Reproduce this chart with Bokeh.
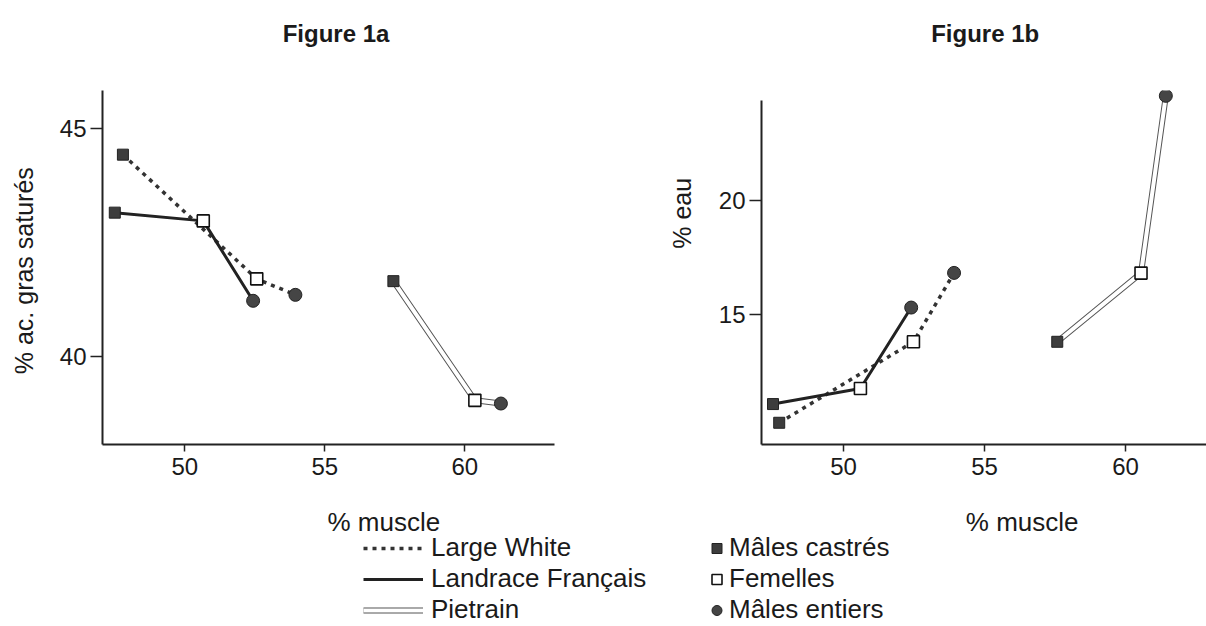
import math
from bokeh.plotting import figure
from bokeh.models import Label, Legend, LegendItem, FixedTicker, Range1d
from bokeh.layouts import column, row
from bokeh.embed import file_html
from bokeh.resources import INLINE

# ---------------- data ----------------
breeds = ["Large White", "Landrace Français", "Pietrain"]
sexes = ["Mâles castrés", "Femelles", "Mâles entiers"]

# Figure 1a : % muscle vs % ac. gras saturés  (order: castrés, femelles, entiers)
muscle_1a_lw = [47.79, 52.57, 53.95]
sat_lw = [44.42, 41.70, 41.35]
muscle_1a_lr = [47.50, 50.66, 52.44]
sat_lr = [43.15, 42.97, 41.22]
muscle_1a_pi = [57.45, 60.36, 61.29]
sat_pi = [41.65, 39.04, 38.97]

# Figure 1b : % muscle vs % eau
muscle_1b_lw = [47.72, 52.48, 53.92]
eau_lw = [10.24, 13.79, 16.81]
muscle_1b_lr = [47.50, 50.60, 52.40]
eau_lr = [11.06, 11.74, 15.29]
muscle_1b_pi = [57.58, 60.55, 61.43]
eau_pi = [13.79, 16.80, 24.57]

x_ticks = [50, 55, 60]
y_ticks_1a = [40, 45]
y_ticks_1b = [15, 20]

titles = ["Figure 1a", "Figure 1b"]
x_label = "% muscle"
y_labels = ["% ac. gras saturés", "% eau"]

# ---------------- styles ----------------
SANS = "Liberation Sans"
INK = "#1a1a1a"
H_MID = 438

line_styles = {
    "Large White": [dict(line_dash="4 5", line_width=3.5, line_color="#333333")],
    "Landrace Français": [dict(line_width=3, line_color="#222222")],
    "Pietrain": [dict(line_width=6, line_color="#555555"),
                 dict(line_width=4, line_color="white")],
}
marker_styles = {
    "Mâles castrés": dict(marker="square", size=11, fill_color="#3d3d3d",
                          line_color="#222222", line_width=1),
    "Femelles": dict(marker="square", size=12, fill_color="white",
                     line_color="#111111", line_width=1.6),
    "Mâles entiers": dict(marker="circle", size=13, fill_color="#454545",
                          line_color="#222222", line_width=1),
}


def strip(width, height):
    """Axis-less figure whose frame fills the canvas; ranges are in pixels."""
    q = figure(width=width, height=height, x_range=Range1d(0, width),
               y_range=Range1d(height, 0), x_axis_type=None, y_axis_type=None,
               toolbar_location=None, output_backend="svg",
               min_border_left=0, min_border_right=0, min_border_top=0,
               min_border_bottom=0)
    q.outline_line_color = None
    q.background_fill_color = "white"
    q.border_fill_color = "white"
    return q


def add_text(q, x, y, text, size, bold=False, angle=0.0, baseline="alphabetic"):
    q.add_layout(Label(x=x, y=y, text=text, text_font=SANS, text_font_size=size,
                       text_font_style="bold" if bold else "normal",
                       text_color=INK, text_align="center",
                       text_baseline=baseline, angle=angle))


def make_panel(width, mb_left, mb_right, mb_top, xr, yr, ybounds, yticks):
    p = figure(width=width, height=H_MID, x_range=Range1d(*xr), y_range=Range1d(*yr),
               toolbar_location=None, output_backend="svg",
               min_border_left=mb_left, min_border_right=mb_right,
               min_border_top=mb_top, min_border_bottom=44)
    p.outline_line_color = None
    p.grid.visible = False
    p.background_fill_color = "white"
    p.border_fill_color = "white"
    p.xaxis.ticker = FixedTicker(ticks=x_ticks)
    p.yaxis.ticker = FixedTicker(ticks=yticks)
    p.yaxis.bounds = ybounds
    for ax in (p.xaxis, p.yaxis):
        ax.axis_line_width = 2
        ax.axis_line_color = "#222222"
        ax.major_tick_line_width = 1.5
        ax.major_tick_line_color = "#222222"
        ax.major_tick_in = 0
        ax.minor_tick_in = 0
        ax.minor_tick_out = 0
        ax.major_label_text_font = SANS
        ax.major_label_text_font_size = "24px"
        ax.major_label_text_color = INK
    p.xaxis.major_tick_out = 7
    p.xaxis.major_label_standoff = 6
    p.yaxis.major_tick_out = 12
    p.yaxis.major_label_standoff = 4
    return p


def draw_panel(p, series):
    for (xs, ys), breed in zip(series, breeds):
        for st in line_styles[breed]:
            p.line(xs, ys, line_join="round", **st)
    for xs, ys in series:
        for i, s in enumerate(sexes):
            p.scatter([xs[i]], [ys[i]], **marker_styles[s])


# ---------------- top strip: titles ----------------
top = strip(1206, 50)
add_text(top, 335.5, 32.5, titles[0], "24px", bold=True)
add_text(top, 984.7, 33, titles[1], "24px", bold=True)

# ---------------- Figure 1a ----------------
ylab1 = strip(40, H_MID)
add_text(ylab1, 23, 223, y_labels[0], "25px", angle=math.pi / 2, baseline="middle")

p1 = make_panel(610, 62, 96, 40, (47.061, 63.204), (38.073, 45.825),
                (38.073, 45.825), y_ticks_1a)
draw_panel(p1, [(muscle_1a_lw, sat_lw), (muscle_1a_lr, sat_lr), (muscle_1a_pi, sat_pi)])

# ---------------- Figure 1b ----------------
ylab2 = strip(50, H_MID)
add_text(ylab2, 31.5, 152, y_labels[1], "25px", angle=math.pi / 2, baseline="middle")

p2 = make_panel(506, 61, 0, 30, (47.092, 62.872), (9.288, 24.804),
                (9.288, 24.38), y_ticks_1b)
draw_panel(p2, [(muscle_1b_lw, eau_lw), (muscle_1b_lr, eau_lr), (muscle_1b_pi, eau_pi)])

# ---------------- bottom strip: x labels + legends ----------------
bottom = strip(1206, 138)
add_text(bottom, 383.3, 33, x_label, "26px")
add_text(bottom, 1021.7, 33.5, x_label, "26px")

# legend renderers carry a point outside the strip's visible range
hid_x = [-50, -40]
hid_y = [-50, -50]

items_a = []
for b in breeds:
    rs = [bottom.line(hid_x, hid_y, **st) for st in line_styles[b]]
    items_a.append(LegendItem(label=b, renderers=rs))
items_b = []
for s in sexes:
    r = bottom.scatter(hid_x[:1], hid_y[:1], **marker_styles[s])
    items_b.append(LegendItem(label=s, renderers=[r]))


def style_legend(leg, gw, standoff, loc):
    leg.location = loc
    leg.glyph_width = gw
    leg.glyph_height = 30
    leg.label_height = 30
    leg.label_standoff = standoff
    leg.label_text_font = SANS
    leg.label_text_font_size = "26px"
    leg.label_text_color = INK
    leg.spacing = 0
    leg.padding = 0
    leg.margin = 0
    leg.border_line_color = None
    leg.background_fill_alpha = 0


leg_a = Legend(items=items_a)
style_legend(leg_a, 60, 8, (363, 1))
bottom.add_layout(leg_a)
leg_b = Legend(items=items_b)
style_legend(leg_b, 25, 0, (704, 1))
bottom.add_layout(leg_b)

layout = column(top, row(ylab1, p1, ylab2, p2), bottom)
open("out.html", "w").write(file_html(layout, INLINE))
